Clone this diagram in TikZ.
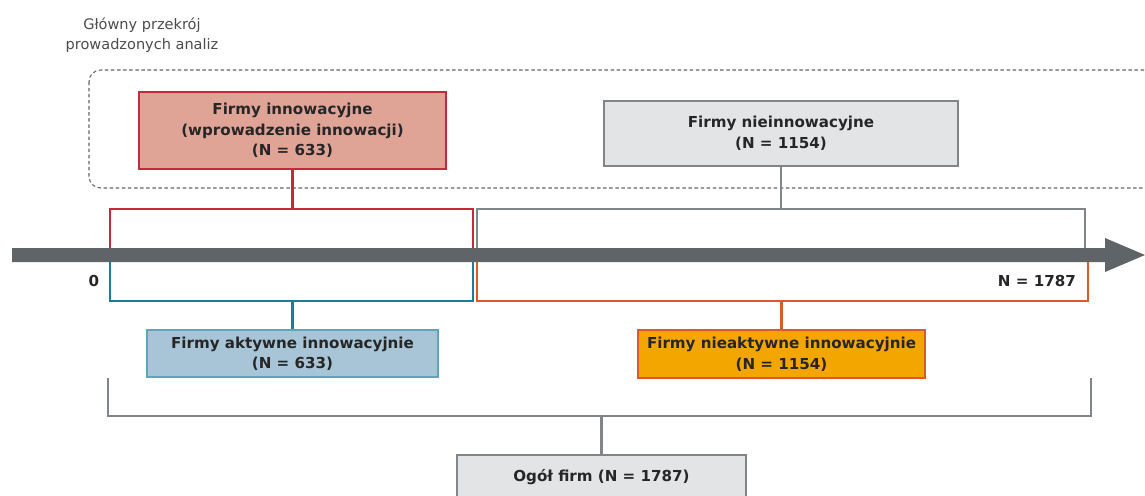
\documentclass[tikz,border=0pt]{standalone}
\usepackage{fontspec}
\setmainfont{DejaVu Sans}
\usetikzlibrary{calc}
\definecolor{gusRed}{HTML}{C8283C}
\definecolor{gusRedFill}{HTML}{E0A497}
\definecolor{gusGray}{HTML}{80858A}
\definecolor{gusGrayFill}{HTML}{E3E4E6}
\definecolor{gusBlue}{HTML}{1D7C99}
\definecolor{gusBlueFill}{HTML}{A7C5D7}
\definecolor{gusOrange}{HTML}{DA5A2E}
\definecolor{gusOrangeFill}{HTML}{F4A600}
\definecolor{gusAxis}{HTML}{5E6468}
\colorlet{innov-color}{gusRed}
\colorlet{non-color}{gusGray}
\colorlet{act-color}{gusBlue}
\colorlet{inact-color}{gusOrange}
\tikzset{box/.style={draw,line width=1.2pt,align=center,inner sep=0pt,text=black!85,
    font=\fontsize{12.9}{17.5}\selectfont\bfseries}}
\tikzset{link/.style={line width=1.9pt}}
\newcommand{\pnt}[2]{\coordinate (#1) at (#2);}

\begin{document}
\begin{tikzpicture}[x=0.03cm,y=-0.03cm]
    \useasboundingbox (0,0) rectangle (1145,495);
    \node[text=black!70,align=center,font=\fontsize{12.4}{17}\selectfont] (title) at (142,35) {Główny przekrój\\prowadzonych analiz};
    \draw[black!60,line width=0.9pt,dash pattern=on 3pt off 2.2pt,rounded corners=0.35cm] (89,70) rectangle (1170,188);
    \node[box,fill=gusRedFill,draw=innov-color,minimum width=9.21cm,minimum height=2.31cm] (innov) at (292.5,130.5) {Firmy innowacyjne\\(wprowadzenie innowacji)\\(N = 633)};
    \node[box,fill=gusGrayFill,draw=non-color,minimum width=10.62cm,minimum height=1.95cm] (non) at (781,133.5) {Firmy nieinnowacyjne\\(N = 1154)};
    \node[box,fill=gusBlueFill,draw=act-color!70,minimum width=8.73cm,minimum height=1.41cm] (act) at (292.5,353.5) {Firmy aktywne innowacyjnie\\(N = 633)};
    \node[box,fill=gusOrangeFill,draw=inact-color,minimum width=8.61cm,minimum height=1.44cm] (inact) at (781.5,354) {Firmy nieaktywne innowacyjnie\\(N = 1154)};
    \node[box,fill=gusGrayFill,draw=non-color,minimum width=8.67cm,minimum height=1.35cm] (total) at (601.5,477.5) {Ogół firm (N = 1787)};
    % brackets above the axis
    \pnt{r1}{110,248} \pnt{r2}{110,209} \pnt{r3}{473,209} \pnt{r4}{473,248} \pnt{rm}{292.5,209}
    \pnt{g1}{477,248} \pnt{g2}{477,209} \pnt{g3}{1085,209} \pnt{g4}{1085,248} \pnt{gm}{781,209}
    % brackets below the axis
    \pnt{b1}{110,262} \pnt{b2}{110,301} \pnt{b3}{473,301} \pnt{b4}{473,262} \pnt{bm}{292.5,301}
    \pnt{o1}{477,262} \pnt{o2}{477,301} \pnt{o3}{1088,301} \pnt{o4}{1088,262} \pnt{om}{781.5,301}
    \pnt{t1}{108,378} \pnt{t2}{108,416} \pnt{t3}{1091,416} \pnt{t4}{1091,378} \pnt{tm}{601.5,416}
    \draw[link,innov-color] (r1)--(r2)--(r3)--(r4);
    \draw[link,innov-color] (innov.south)--(rm);
    \draw[link,non-color] (g1)--(g2)--(g3)--(g4);
    \draw[link,non-color] (non.south)--(gm);
    \draw[link,act-color] (b1)--(b2)--(b3)--(b4);
    \draw[link,act-color] (bm)--(act.north);
    \draw[link,inact-color] (o1)--(o2)--(o3)--(o4);
    \draw[link,inact-color] (om)--(inact.north);
    \draw[line width=2.4pt,non-color] (t1)--(t2)--(t3)--(t4);
    \draw[link,non-color] (tm)--(total.north);
    % axis
    \fill[gusAxis] (12,248)--(1105,248)--(1105,238)--(1145,255)--(1105,272)--(1105,262)--(12,262)--cycle;
    \node[font=\fontsize{12.9}{17}\selectfont\bfseries,text=black!85] (zero) at (94,281) {0};
    \node[font=\fontsize{12.9}{17}\selectfont\bfseries,text=black!85,anchor=east] (all) at (1080,281) {N = 1787};
\end{tikzpicture}
\end{document}
